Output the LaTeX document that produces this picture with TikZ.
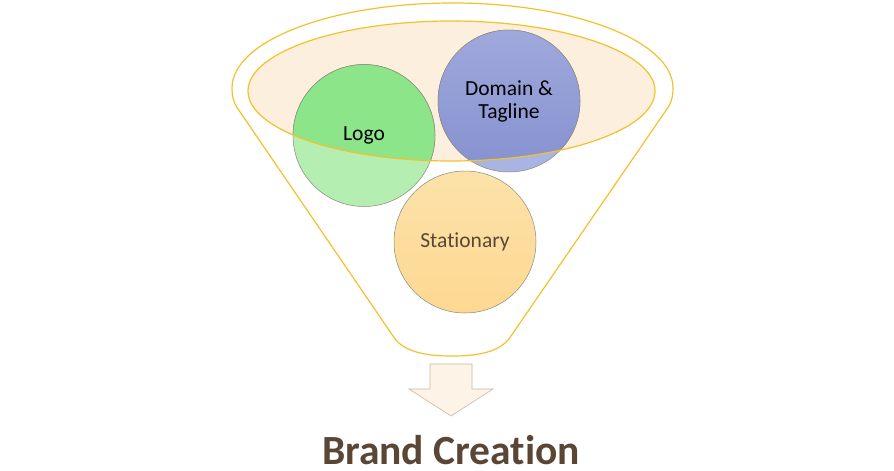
\documentclass[tikz,border=0pt]{standalone}
\usepackage{fontspec}
\setmainfont{Carlito}[Ligatures={NoCommon}]
\usetikzlibrary{shapes.geometric}
\begin{document}
\begin{tikzpicture}[x=1pt,y=-1pt,
  rim/.style={draw=gold, line width=1.2pt},
  ball/.style={circle, minimum size=142pt, inner sep=0pt, draw=ballline, line width=0.5pt},
  lbl/.style={font=\fontsize{21.5}{23}\selectfont, align=center},
]
\definecolor{gold}{HTML}{F3C22B}
\definecolor{peach}{HTML}{FDEFDD}
\definecolor{ballline}{HTML}{8A8A7E}
\definecolor{greenhi}{HTML}{8DE589}
\definecolor{greenlo}{HTML}{B4EEB0}
\definecolor{bluehi}{HTML}{A0A9DC}
\definecolor{bluemid}{HTML}{8591CF}
\definecolor{bluelo}{HTML}{AAB4E2}
\definecolor{orangetop}{HTML}{FCE2AA}
\definecolor{orangebot}{HTML}{FDD891}
\definecolor{brown}{HTML}{5B4636}
\definecolor{arrowfill}{HTML}{FDF3E6}
\definecolor{arrowline}{HTML}{C9B8A4}
\useasboundingbox (0,0) rectangle (894,471);
\fill[white] (0,0) rectangle (894,471);
% funnel outline
\draw[rim] (232,88) arc[start angle=180, end angle=360, x radius=220.5, y radius=85]
  .. controls (673,95) and (672,100) .. (669,106)
  -- (511,336) .. controls (500,354) and (472,356) .. (452,356)
  .. controls (432,356) and (404,354) .. (393,336)
  -- (236,106) .. controls (233,100) and (232,95) .. (232,88) -- cycle;
% inner ellipse fill
\node[ellipse, minimum width=407pt, minimum height=140pt, inner sep=0pt, fill=peach] (top) at (451.5,91) {};
% circles (light parts)
\node[ball, fill=greenlo] (logo) at (364,135.5) {};
\node[ball, fill=bluelo] (domain) at (509,101) {};
\node[ball, top color=orangetop, bottom color=orangebot] (stat) at (465,242) {};
% darker parts inside ellipse
\begin{scope}
  \clip (451.5,91) ellipse[x radius=203.5, y radius=70];
  \fill[greenhi, draw=ballline, line width=0.5pt] (364,135.5) circle[radius=71];
  \path[draw=ballline, line width=0.5pt, top color=bluehi, bottom color=bluemid] (509,101) circle[radius=71];
\end{scope}
\draw[draw=gold, line width=1.2pt] (451.5,91) ellipse[x radius=203.5, y radius=70];
% labels
\node[lbl] (logotext) at (364,135) {Logo};
\node[lbl] (domaintext) at (509,101) {Domain \&\\Tagline};
\node[lbl, text=brown] (stattext) at (465,242) {Stationary};
% arrow
\draw[fill=arrowfill, draw=arrowline, line width=0.6pt]
  (430,364) -- (472,364) -- (472,389) -- (493,389) -- (451,416) -- (409,389) -- (430,389) -- cycle;
\coordinate (arrowtip) at (451,416);
\node[font=\fontsize{41.5}{45}\selectfont\bfseries, text=brown, anchor=base, inner sep=0pt] (brand) at (451,464) {Brand Creation};
\end{tikzpicture}
\end{document}
